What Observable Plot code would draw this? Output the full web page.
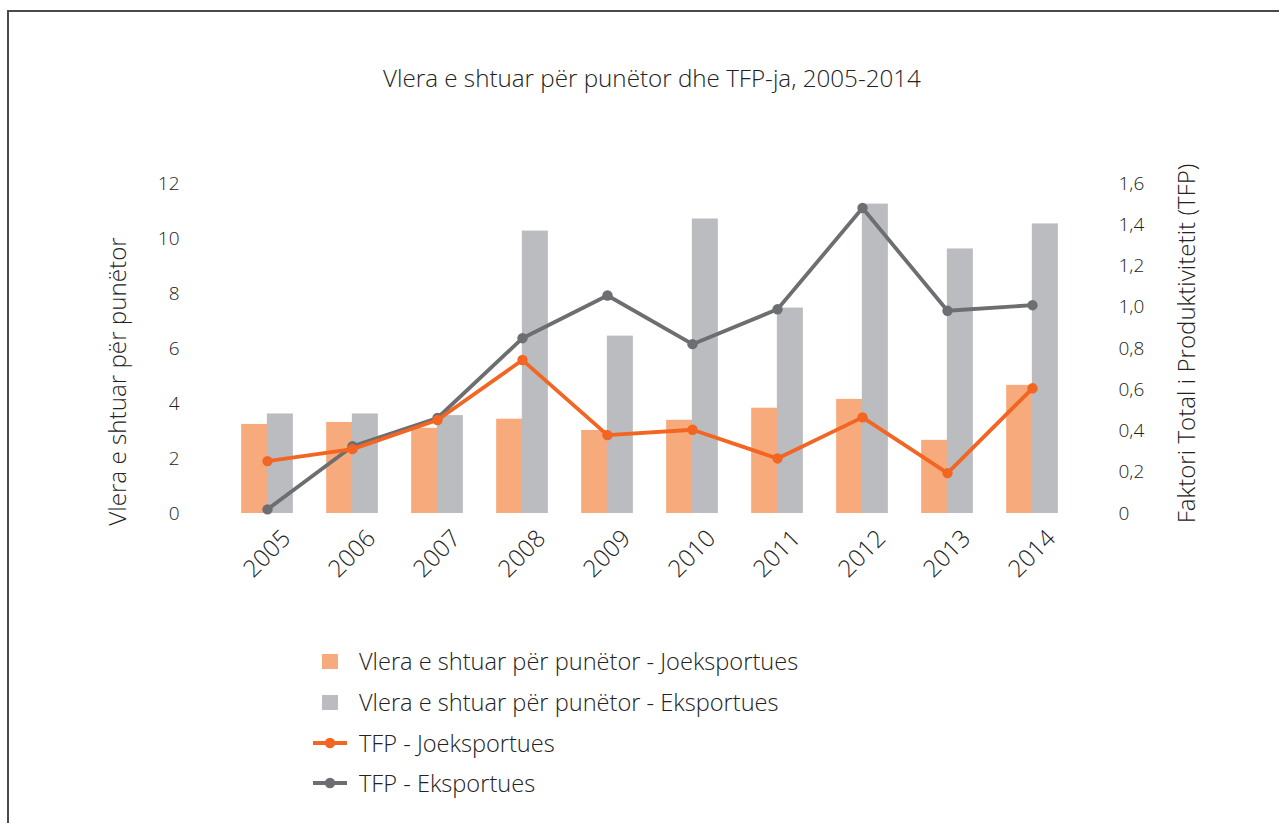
<!DOCTYPE html>
<html>
<head>
<meta charset="utf-8">
<script src="https://cdn.jsdelivr.net/npm/d3@7"></script>
<script src="https://cdn.jsdelivr.net/npm/@observablehq/plot@0.6"></script>
<style>
  html, body { margin: 0; padding: 0; background: #fff; }
  body { width: 1279px; height: 823px; position: relative; overflow: hidden; font-family: "Open Sans", sans-serif; font-weight: 300; color: #222; }
  #frame { position: absolute; left: 7px; top: 10px; right: 0; bottom: -10px; border-top: 2px solid #4a4a4a; border-left: 2px solid #4a4a4a; }
  #title { position: absolute; left: 0; width: 1304px; top: 61px; text-align: center; font-size: 24.2px; color: #222; }
  #chart { position: absolute; left: 0; top: 140px; }
  #legend { position: absolute; left: 313px; top: 641px; font-size: 23.6px; color: #222; }
  .row { height: 40.7px; display: flex; align-items: center; position: relative; }
  .sw { width: 16px; height: 15px; margin-left: 9px; margin-right: 21px; }
  .ln { width: 34px; height: 32px; margin-right: 12px; }
</style>
</head>
<body>
<div id="frame"></div>
<div id="title">Vlera e shtuar për punëtor dhe TFP-ja, 2005-2014</div>
<div id="chart"></div>
<div id="legend"></div>
<script>
// ---- data ----
const years = ["2005","2006","2007","2008","2009","2010","2011","2012","2013","2014"];
const vaJoeksportues = [3.24, 3.31, 3.10, 3.43, 3.02, 3.39, 3.83, 4.15, 2.66, 4.66];
const vaEksportues   = [3.62, 3.62, 3.56, 10.27, 6.45, 10.71, 7.47, 11.25, 9.62, 10.53];
const tfpJoeksportues = [0.254, 0.312, 0.453, 0.744, 0.380, 0.406, 0.267, 0.466, 0.196, 0.607];
const tfpEksportues   = [0.020, 0.326, 0.463, 0.850, 1.057, 0.821, 0.990, 1.481, 0.983, 1.010];
const leftTicks = [0, 2, 4, 6, 8, 10, 12];
const rightTicks = [0, 0.2, 0.4, 0.6, 0.8, 1.0, 1.2, 1.4, 1.6];
const seriesNames = [
  "Vlera e shtuar për punëtor - Joeksportues",
  "Vlera e shtuar për punëtor - Eksportues",
  "TFP - Joeksportues",
  "TFP - Eksportues"
];
const colors = ["#F7AB7C", "#BBBCC0", "#F26522", "#6D6E71"];
const leftTitle = "Vlera e shtuar për punëtor";
const rightTitle = "Faktori Total i Produktivitetit (TFP)";

// right axis maps onto left scale
const R = 12 / 1.6;
const rows = years.map((y, i) => ({
  year: y, joeks: vaJoeksportues[i], eks: vaEksportues[i],
  tfpJ: tfpJoeksportues[i], tfpE: tfpEksportues[i]
}));
const fmtR = v => { const t = Math.round(v / R * 10) / 10; return t === 0 ? "0" : t.toFixed(1).replace(".", ","); };

const chart = Plot.plot({
  width: 1279,
  height: 480,
  marginTop: 43,
  marginBottom: 107,
  marginLeft: 221,
  marginRight: 201,
  style: { fontFamily: "Open Sans, sans-serif", fontWeight: 300, fontSize: "19px", color: "#222", background: "transparent", overflow: "visible" },
  x: { domain: years, paddingInner: 0.7, paddingOuter: 0.35, axis: null },
  y: { domain: [0, 12], axis: null },
  marks: [
    Plot.axisY({ ticks: leftTicks, tickSize: 0, tickPadding: 42, label: null, fontSize: 19 }),
    Plot.axisY({ anchor: "right", ticks: rightTicks.map(t => t * R), tickFormat: fmtR, tickSize: 0, tickPadding: 40, label: null, fontSize: 19 }),
    Plot.axisX({ tickRotate: -45, tickSize: 0, tickPadding: 21, dx: 19, label: null, fontSize: 24 }),
    Plot.barY(rows, { x: "year", y: "joeks", fill: colors[0], dx: -12.85 }),
    Plot.barY(rows, { x: "year", y: "eks", fill: colors[1], dx: 12.85 }),
    Plot.line(rows, { x: "year", y: d => d.tfpE * R, stroke: colors[3], strokeWidth: 3.8 }),
    Plot.dot(rows, { x: "year", y: d => d.tfpE * R, fill: colors[3], r: 5.2 }),
    Plot.line(rows, { x: "year", y: d => d.tfpJ * R, stroke: colors[2], strokeWidth: 3.8 }),
    Plot.dot(rows, { x: "year", y: d => d.tfpJ * R, fill: colors[2], r: 5.2 }),
    Plot.text([leftTitle], { text: d => d, frameAnchor: "left", textAnchor: "middle", rotate: -90, dx: -103, dy: 33, fontSize: 24.2, fill: "#222" }),
    Plot.text([rightTitle], { text: d => d, frameAnchor: "right", textAnchor: "middle", rotate: -90, dx: 109, dy: -5, fontSize: 24.1, fill: "#222" })
  ]
});
document.getElementById("chart").appendChild(chart);

// legend
const legend = document.getElementById("legend");
seriesNames.forEach((name, i) => {
  const row = document.createElement("div");
  row.className = "row";
  if (i < 2) {
    const sw = document.createElement("div");
    sw.className = "sw";
    sw.style.background = colors[i];
    row.appendChild(sw);
  } else {
    const ns = "http://www.w3.org/2000/svg";
    const svg = document.createElementNS(ns, "svg");
    svg.setAttribute("class", "ln");
    svg.setAttribute("width", 34); svg.setAttribute("height", 32);
    const l = document.createElementNS(ns, "line");
    l.setAttribute("x1", 0); l.setAttribute("x2", 34); l.setAttribute("y1", 16); l.setAttribute("y2", 16);
    l.setAttribute("stroke", colors[i]); l.setAttribute("stroke-width", 3.8);
    const c = document.createElementNS(ns, "circle");
    c.setAttribute("cx", 17); c.setAttribute("cy", 16); c.setAttribute("r", 5.2); c.setAttribute("fill", colors[i]);
    svg.appendChild(l); svg.appendChild(c);
    row.appendChild(svg);
  }
  const t = document.createElement("span");
  t.textContent = name;
  row.appendChild(t);
  legend.appendChild(row);
});
</script>
</body>
</html>
